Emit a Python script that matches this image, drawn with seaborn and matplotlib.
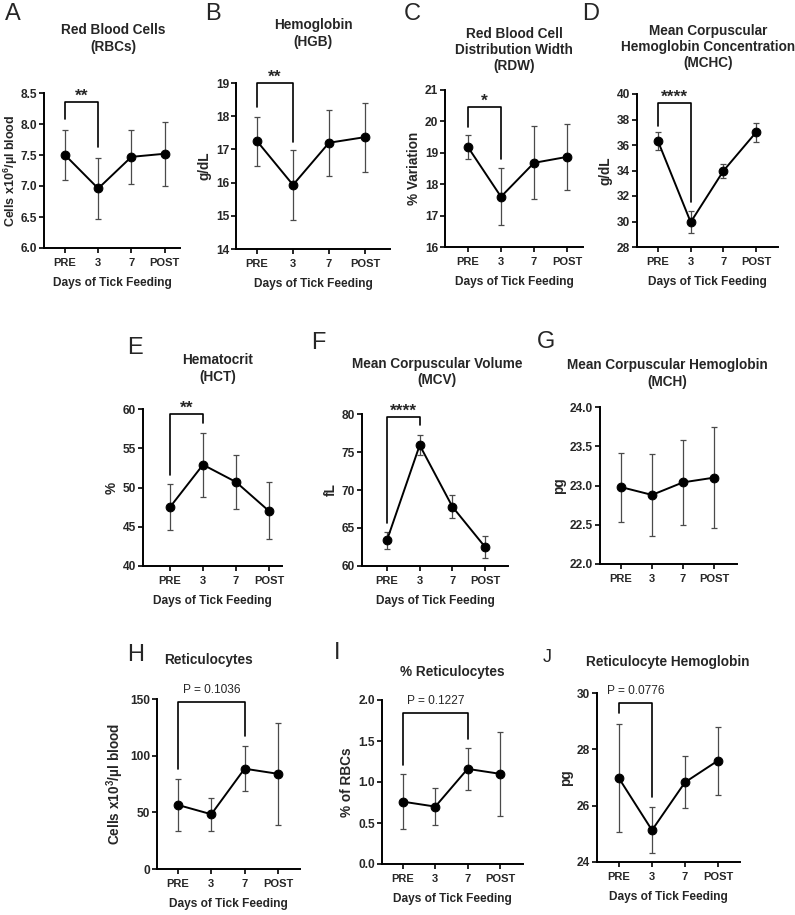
import numpy as np
import pandas as pd
import matplotlib
matplotlib.use("Agg")
import matplotlib.pyplot as plt
import seaborn as sns

sns.set_theme(style="ticks")
plt.rcParams['font.family'] = ['Liberation Sans', 'DejaVu Sans']
plt.rcParams['font.weight'] = 'bold'
plt.rcParams['axes.labelweight'] = 'bold'
plt.rcParams['mathtext.fontset'] = 'custom'
plt.rcParams['mathtext.rm'] = 'Liberation Sans:bold'
plt.rcParams['mathtext.it'] = 'Liberation Sans:bold'
plt.rcParams['mathtext.bf'] = 'Liberation Sans:bold'
plt.rcParams['mathtext.default'] = 'rm'

# ---------------- data ----------------
days = ["PRE", "3", "7", "POST"]

rbc_mean = [7.50, 6.96, 7.47, 7.52]
rbc_lo = [7.10, 6.47, 7.04, 7.00]
rbc_hi = [7.90, 7.45, 7.90, 8.03]

hgb_mean = [17.25, 15.93, 17.20, 17.37]
hgb_lo = [16.50, 14.88, 16.20, 16.32]
hgb_hi = [17.97, 16.97, 18.20, 18.40]

rdw_mean = [19.18, 17.60, 18.68, 18.87]
rdw_lo = [18.80, 16.70, 17.52, 17.82]
rdw_hi = [19.57, 18.52, 19.85, 19.92]

mchc_mean = [36.3, 29.95, 33.97, 37.0]
mchc_lo = [35.6, 29.1, 33.45, 36.2]
mchc_hi = [37.0, 30.8, 34.5, 37.75]

hct_mean = [47.5, 52.9, 50.7, 47.0]
hct_lo = [44.6, 48.8, 47.2, 43.4]
hct_hi = [50.5, 57.0, 54.1, 50.7]

mcv_mean = [63.4, 75.9, 67.8, 62.5]
mcv_lo = [62.3, 74.6, 66.3, 61.1]
mcv_hi = [64.5, 77.2, 69.3, 63.9]

mch_mean = [22.98, 22.88, 23.04, 23.10]
mch_lo = [22.54, 22.36, 22.50, 22.46]
mch_hi = [23.42, 23.40, 23.58, 23.74]

retic_mean = [56.5, 48.3, 88.5, 84.0]
retic_lo = [33.5, 33.5, 68.5, 39.0]
retic_hi = [79.5, 63.0, 108.5, 129.0]

pretic_mean = [0.76, 0.70, 1.16, 1.10]
pretic_lo = [0.43, 0.48, 0.90, 0.59]
pretic_hi = [1.10, 0.93, 1.42, 1.61]

rethgb_mean = [26.97, 25.13, 26.83, 27.60]
rethgb_lo = [25.05, 24.33, 25.92, 26.38]
rethgb_hi = [28.90, 25.95, 27.75, 28.80]

titles = ["Red Blood Cells\n(RBCs)", "Hemoglobin\n(HGB)",
          "Red Blood Cell\nDistribution Width\n(RDW)",
          "Mean Corpuscular\nHemoglobin Concentration\n(MCHC)",
          "Hematocrit\n(HCT)", "Mean Corpuscular Volume\n(MCV)",
          "Mean Corpuscular Hemoglobin\n(MCH)",
          "Reticulocytes", "% Reticulocytes", "Reticulocyte Hemoglobin"]
ylabels = ["Cells x10$^{6}$/µl blood", "g/dL", "% Variation", "g/dL", "%", "fL", "pg",
           "Cells x10$^{3}$/µl blood", "% of RBCs", "pg"]
letters = ["A", "B", "C", "D", "E", "F", "G", "H", "I", "J"]

# significance brackets
sig_left = [8.08, 18.27, 19.82, 37.5, 51.65, 65.6, None, 88.0, 1.207, 29.29]
sig_top = [8.35, 19.0, 20.46, 39.3, 59.36, 79.56, None, 147.0, 1.845, 29.64]
sig_right_group = [1, 1, 1, 1, 1, 1, None, 2, 2, 1]
sig_right = [7.63, 17.22, 18.8, 31.5, 58.2, 78.55, None, 117.0, 1.53, 26.32]
sig_label = ["**", "**", "*", "****", "**", "****", None,
             "P = 0.1036", "P = 0.1227", "P = 0.0776"]

# ---------------- layout (pixels) ----------------
W, H = 795, 915
fig = plt.figure(figsize=(W / 100, H / 100), dpi=100)

# left, right, top, bottom, x of PRE, spacing
boxes = [
    (44, 180, 93, 248, 65, 33.2),
    (236, 390, 83, 249, 257, 36.0),
    (445, 583, 90, 247, 468, 33.0),
    (637, 778, 94, 247, 658, 32.7),
    (143, 282, 409, 566, 170, 33.0),
    (362, 508, 414, 566, 387, 32.7),
    (600, 737, 407, 564, 621, 31.0),
    (157, 300, 699, 869, 178, 33.3),
    (382, 523, 700, 864, 403, 32.3),
    (597, 740, 693, 862, 619, 33.0),
]
ylims = [(6.0, 8.5), (14, 19), (16, 21), (28, 40), (40, 60), (60, 80),
         (22.0, 24.0), (0, 150), (0.0, 2.0), (24, 30)]
ysteps = [0.5, 1, 1, 2, 5, 5, 0.5, 50, 0.5, 2]
yfmt = ["%.1f", "%d", "%d", "%d", "%d", "%d", "%.1f", "%d", "%.1f", "%d"]
ylabel_size = [9.0, 9.8, 9.8, 9.8, 9.8, 9.8, 9.8, 9.8, 9.8, 9.8]
ylabel_pad = [0.5, 3, 3, 3, 3, 3, 3, 3, 3, 3]

title_pos = [(113, 38.5), (313, 33.5), (514, 50), (708, 46.7), (218, 368.5),
             (437, 372), (667, 373.5), (208, 660), (452, 672), (668, 662)]
letter_pos = [(13, 14), (213, 14), (412, 14), (591, 14), (135, 348),
              (318, 343), (546, 342), (136, 655), (337, 653), (547, 657)]
show_xlabel = [True, True, True, True, True, True, False, True, True, True]

means = [rbc_mean, hgb_mean, rdw_mean, mchc_mean, hct_mean, mcv_mean, mch_mean,
         retic_mean, pretic_mean, rethgb_mean]
los = [rbc_lo, hgb_lo, rdw_lo, mchc_lo, hct_lo, mcv_lo, mch_lo, retic_lo, pretic_lo, rethgb_lo]
his = [rbc_hi, hgb_hi, rdw_hi, mchc_hi, hct_hi, mcv_hi, mch_hi, retic_hi, pretic_hi, rethgb_hi]

for i in range(10):
    l, r, t, b, x0, dx = boxes[i]
    ax = fig.add_axes([l / W, 1 - b / H, (r - l) / W, (b - t) / H])
    df = pd.DataFrame({"pos": np.arange(4), "mean": means[i],
                       "lo": los[i], "hi": his[i]})
    yerr = [df["mean"] - df["lo"], df["hi"] - df["mean"]]
    ax.errorbar(df["pos"], df["mean"], yerr=yerr, fmt="none", ecolor="#4a4a4a",
                elinewidth=0.9, capsize=2.3, capthick=0.9, zorder=2)
    sns.lineplot(data=df, x="pos", y="mean", ax=ax, color="black", linewidth=1.4,
                 marker="o", markersize=6.3, markeredgecolor="black", zorder=3)
    ax.set_xlim(-(x0 - l) / dx, 3 + (r - (x0 + 3 * dx)) / dx)
    ax.set_ylim(*ylims[i])
    ax.set_yticks(np.arange(ylims[i][0], ylims[i][1] + 1e-9, ysteps[i]))
    ax.set_yticklabels([yfmt[i] % v for v in ax.get_yticks()])
    ax.set_xticks(range(4))
    ax.set_xticklabels(days)
    for s in ["top", "right"]:
        ax.spines[s].set_visible(False)
    for s in ["left", "bottom"]:
        ax.spines[s].set_linewidth(1.4)
        ax.spines[s].set_color("black")
    ax.tick_params(axis="both", length=3.5, width=1.2, color="black", pad=2)
    ax.tick_params(axis="x", labelsize=8.0, pad=3.5)
    ax.tick_params(axis="y", labelsize=8.6, pad=1.5)
    for lab in ax.get_xticklabels() + ax.get_yticklabels():
        lab.set_fontweight("bold")
    ax.set_ylabel(ylabels[i], fontsize=ylabel_size[i], fontweight="bold",
                  labelpad=ylabel_pad[i])
    if show_xlabel[i]:
        ax.set_xlabel("Days of Tick Feeding", fontsize=8.6, fontweight="bold", labelpad=7)
    else:
        ax.set_xlabel("")
    ax.set_facecolor("white")

    if sig_label[i] is not None:
        g2 = sig_right_group[i]
        ax.plot([0, 0, g2, g2], [sig_left[i], sig_top[i], sig_top[i], sig_right[i]],
                color="black", linewidth=1.2, clip_on=False, zorder=4)
        yr = ylims[i][1] - ylims[i][0]
        if sig_label[i].startswith("P"):
            ax.text(g2 / 2, sig_top[i] + 0.035 * yr, sig_label[i], ha="center",
                    va="bottom", fontsize=8.6, fontweight="normal", clip_on=False)
        else:
            ax.text(g2 / 2, sig_top[i] - 0.01 * yr, sig_label[i], ha="center",
                    va="bottom", fontsize=12.5, fontweight="bold", clip_on=False)

    tx, ty = title_pos[i]
    fig.text(tx / W, 1 - ty / H, titles[i], ha="center", va="center", fontsize=9.8,
             fontweight="bold", linespacing=1.2)
    lx, ly = letter_pos[i]
    fig.text(lx / W, 1 - ly / H, letters[i], ha="center", va="center",
             fontsize=17 if letters[i] != "J" else 13, fontweight="normal")

fig.savefig("out.png", dpi=100, facecolor="white")
